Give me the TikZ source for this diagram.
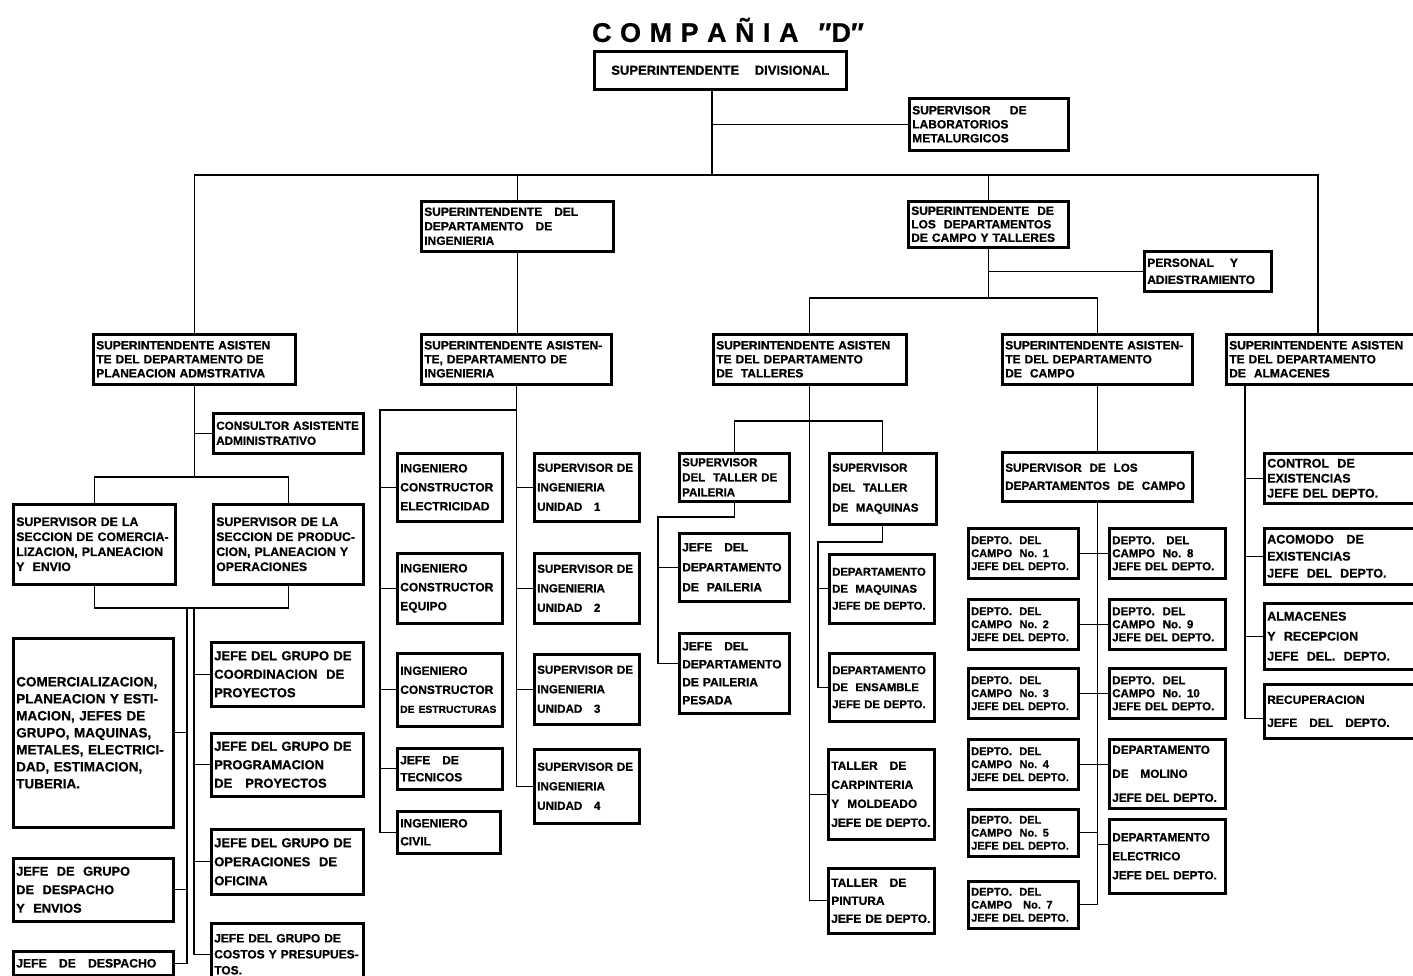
\documentclass[tikz,border=0pt]{standalone}
\usepackage{fontspec}
\setmainfont{Liberation Sans}[BoldFeatures={FakeBold=0.8}]
\tikzset{
  box/.style={draw, line width=2.5pt, inner xsep=3pt, inner ysep=2pt, align=left, font=\bfseries},
  conn/.style={line width=1.4pt},
}
\newcommand\bx[8]{%
  \pgfmathsetmacro\bxw{#4-#2}%
  \pgfmathsetmacro\bxh{#5-#3}%
  \pgfmathsetmacro\bxt{#4-#2-6}%
  \node[box, anchor=north west, minimum width=\bxw pt, minimum height=\bxh pt,
        text width=\bxt pt, font={\bfseries\fontsize{#6}{#7}\selectfont}] (#1) at (#2,#3) {#8};}
\begin{document}
\begin{tikzpicture}[x=1pt,y=-1pt]
\useasboundingbox (0,0) rectangle (1413,975);
\fill[white] (0,0) rectangle (1413,975);
\clip (0,0) rectangle (1413,975);

% title
\node[font=\bfseries\fontsize{27}{29}\selectfont] (title) at (728,30)
  {C\hspace{8.5pt}O\hspace{8.5pt}M\hspace{8.5pt}P\hspace{8.5pt}A\hspace{8.5pt}Ñ\hspace{8.5pt}I\hspace{8.5pt}A\hspace{20pt}″D″};

% top level
\node[box, anchor=north west, minimum width=252pt, minimum height=38pt, align=center,
      font=\bfseries\fontsize{13}{15}\selectfont] (SD) at (593,50) {SUPERINTENDENTE\hspace{1.2em}DIVISIONAL};
\bx{Lab}{908}{97}{1067}{149}{12}{14}{SUPERVISOR\hspace{1.6em}DE\\LABORATORIOS\\METALURGICOS}
\bx{Ing}{420}{200}{612}{250}{12}{14.5}{SUPERINTENDENTE\ \ \ DEL\\DEPARTAMENTO\ \ \ DE\\INGENIERIA}
\bx{CT}{907}{200}{1067}{246}{12}{13.5}{SUPERINTENDENTE\ \ DE\\LOS\ \ DEPARTAMENTOS\\DE CAMPO Y TALLERES}
\bx{Pers}{1143}{250}{1270}{290}{12}{17}{PERSONAL\ \ \ \ Y\\ADIESTRAMIENTO}

\bx{Plan}{92}{333}{294}{383}{12}{14}{SUPERINTENDENTE ASISTEN\\TE DEL DEPARTAMENTO DE\\PLANEACION ADMSTRATIVA}
\bx{AIng}{420}{333}{610}{383}{12}{14}{SUPERINTENDENTE ASISTEN-\\TE, DEPARTAMENTO DE\\INGENIERIA}
\bx{Tal}{712}{333}{905}{383}{12}{14}{SUPERINTENDENTE ASISTEN\\TE DEL DEPARTAMENTO\\DE\ \ TALLERES}
\bx{Cam}{1001}{333}{1191}{383}{12}{14}{SUPERINTENDENTE ASISTEN-\\TE DEL DEPARTAMENTO\\DE\ \ CAMPO}
\bx{Alm}{1225}{333}{1420}{383}{12}{14}{SUPERINTENDENTE ASISTEN\\TE DEL DEPARTAMENTO\\DE\ \ ALMACENES}

% planeacion subtree
\bx{Cons}{212}{412}{362}{452}{11.7}{15}{CONSULTOR ASISTENTE\\ADMINISTRATIVO}
\bx{SupL}{12}{503}{174}{583}{12.3}{15}{SUPERVISOR DE LA\\SECCION DE COMERCIA-\\LIZACION, PLANEACION\\Y\ \ ENVIO}
\bx{SupR}{212}{503}{362}{583}{12.3}{15}{SUPERVISOR DE LA\\SECCION DE PRODUC-\\CION, PLANEACION Y\\OPERACIONES}
\bx{Com}{12}{637}{172}{826}{13.5}{17}{COMERCIALIZACION,\\PLANEACION Y ESTI-\\MACION, JEFES DE\\GRUPO, MAQUINAS,\\METALES, ELECTRICI-\\DAD, ESTIMACION,\\TUBERIA.}
\bx{JGD}{12}{857}{172}{920}{12.8}{18.5}{JEFE\ \ DE\ \ GRUPO\\DE\ \ DESPACHO\\Y\ \ ENVIOS}
\bx{JD}{12}{950}{172}{974}{12.2}{14}{JEFE\ \ \ DE\ \ \ DESPACHO}
\bx{Coord}{210}{641}{362}{705}{13}{18.5}{JEFE DEL GRUPO DE\\COORDINACION\ \ DE\\PROYECTOS}
\bx{Prog}{210}{732}{362}{795}{13}{18.5}{JEFE DEL GRUPO DE\\PROGRAMACION\\DE\ \ \ PROYECTOS}
\bx{Oper}{210}{828}{362}{893}{13}{19}{JEFE DEL GRUPO DE\\OPERACIONES\ \ DE\\OFICINA}
\bx{Cost}{210}{922}{362}{984}{12}{16}{JEFE DEL GRUPO DE\\COSTOS Y PRESUPUES-\\TOS.}

% ingenieria subtree
\bx{IE}{396}{452}{501}{520}{12}{19}{INGENIERO\\CONSTRUCTOR\\ELECTRICIDAD}
\bx{IEq}{396}{552}{501}{622}{12}{19}{INGENIERO\\CONSTRUCTOR\\EQUIPO}
\bx{IEs}{396}{652}{501}{725}{12}{19}{INGENIERO\\CONSTRUCTOR\\{\fontsize{10.3}{19}\selectfont DE ESTRUCTURAS}}
\bx{JT}{396}{747}{501}{788}{12}{17}{JEFE\ \ \ DE\\TECNICOS}
\bx{IC}{396}{810}{499}{852}{12}{18}{INGENIERO\\CIVIL}
\bx{U1}{533}{452}{638}{520}{11.6}{19.5}{SUPERVISOR DE\\INGENIERIA\\UNIDAD\ \ \ 1}
\bx{U2}{533}{552}{638}{622}{11.6}{19.5}{SUPERVISOR DE\\INGENIERIA\\UNIDAD\ \ \ 2}
\bx{U3}{533}{653}{638}{723}{11.6}{19.5}{SUPERVISOR DE\\INGENIERIA\\UNIDAD\ \ \ 3}
\bx{U4}{533}{748}{638}{822}{11.6}{19.5}{SUPERVISOR DE\\INGENIERIA\\UNIDAD\ \ \ 4}

% talleres subtree
\bx{SP}{678}{452}{788}{500}{11.5}{15}{SUPERVISOR\\DEL\ \ TALLER DE\\PAILERIA}
\bx{SM}{828}{452}{935}{523}{11.5}{20}{SUPERVISOR\\DEL\ \ TALLER\\DE\ \ MAQUINAS}
\bx{JDP}{678}{532}{788}{600}{12}{20}{JEFE\ \ \ DEL\\DEPARTAMENTO\\DE\ \ PAILERIA}
\bx{JDPP}{678}{632}{788}{712}{12}{18}{JEFE\ \ \ DEL\\DEPARTAMENTO\\DE PAILERIA\\PESADA}
\bx{DM}{828}{553}{933}{622}{11.3}{17}{DEPARTAMENTO\\DE\ \ MAQUINAS\\JEFE DE DEPTO.}
\bx{DE}{828}{652}{933}{720}{11.3}{17}{DEPARTAMENTO\\DE\ \ ENSAMBLE\\JEFE DE DEPTO.}
\bx{Carp}{827}{748}{933}{838}{12}{19}{TALLER\ \ \ DE\\CARPINTERIA\\Y\ \ MOLDEADO\\JEFE DE DEPTO.}
\bx{Pint}{827}{867}{933}{932}{12}{18}{TALLER\ \ \ DE\\PINTURA\\JEFE DE DEPTO.}

% campo subtree
\bx{SC}{1001}{451}{1191}{500}{11.7}{18}{SUPERVISOR\ \ DE\ \ LOS\\DEPARTAMENTOS\ \ DE\ \ CAMPO}
\bx{D1}{967}{527}{1077}{577}{11}{13}{DEPTO.\ \ DEL\\CAMPO\ \ No. 1\\JEFE DEL DEPTO.}
\bx{D2}{967}{598}{1077}{648}{11}{13}{DEPTO.\ \ DEL\\CAMPO\ \ No. 2\\JEFE DEL DEPTO.}
\bx{D3}{967}{667}{1077}{717}{11}{13}{DEPTO.\ \ DEL\\CAMPO\ \ No. 3\\JEFE DEL DEPTO.}
\bx{D4}{967}{738}{1077}{788}{11}{13}{DEPTO.\ \ DEL\\CAMPO\ \ No. 4\\JEFE DEL DEPTO.}
\bx{D5}{967}{808}{1077}{855}{11}{13}{DEPTO.\ \ DEL\\CAMPO\ \ No. 5\\JEFE DEL DEPTO.}
\bx{D7}{967}{880}{1077}{927}{11}{13}{DEPTO.\ \ DEL\\CAMPO\ \ \ No. 7\\JEFE DEL DEPTO.}
\bx{D8}{1108}{527}{1224}{577}{11.5}{13}{DEPTO.\ \ \ DEL\\CAMPO\ \ No. 8\\JEFE DEL DEPTO.}
\bx{D9}{1108}{598}{1224}{648}{11.5}{13}{DEPTO.\ \ DEL\\CAMPO\ \ No. 9\\JEFE DEL DEPTO.}
\bx{D10}{1108}{667}{1224}{717}{11.5}{13}{DEPTO.\ \ DEL\\CAMPO\ \ No. 10\\JEFE DEL DEPTO.}
\bx{Mol}{1108}{738}{1224}{807}{11.8}{24}{DEPARTAMENTO\\DE\ \ \ MOLINO\\JEFE DEL DEPTO.}
\bx{EL}{1108}{818}{1224}{892}{11.8}{19}{DEPARTAMENTO\\ELECTRICO\\JEFE DEL DEPTO.}

% almacenes subtree
\bx{Ctrl}{1263}{452}{1420}{502}{12.5}{15}{CONTROL\ \ DE\\EXISTENCIAS\\JEFE DEL DEPTO.}
\bx{Acom}{1263}{527}{1420}{583}{12.5}{17}{ACOMODO\ \ \ DE\\EXISTENCIAS\\JEFE\ \ DEL\ \ DEPTO.}
\bx{AlmR}{1263}{602}{1420}{668}{12.5}{20}{ALMACENES\\Y\ \ RECEPCION\\JEFE\ \ DEL.\ \ DEPTO.}
\bx{Rec}{1263}{683}{1420}{737}{12}{23}{RECUPERACION\\JEFE\ \ \ DEL\ \ \ DEPTO.}

% ---------- connectors ----------
\coordinate (bar) at (0,175);
\coordinate (barR) at (1318,175);
\coordinate (t0) at (712,175);
\draw[conn] (t0 |- SD.south) -- (t0);
\draw[conn] (t0 |- Lab.west) -- (Lab.west);
\draw[conn] (Plan.north) -- (Plan.north |- bar) -- (barR) -- (barR |- Alm.north);
\draw[conn] (Ing.north) -- (Ing.north |- bar);
\draw[conn] (CT.north) -- (CT.north |- bar);
\draw[conn] (Ing.south) -- (Ing.south |- AIng.north);

\coordinate (bar2) at (0,298);
\draw[conn] (CT.south) -- (CT.south |- bar2);
\draw[conn] (CT.south |- Pers.west) -- (Pers.west);
\draw[conn] (Tal.north) -- (Tal.north |- bar2) -- (Cam.north |- bar2) -- (Cam.north);

% planeacion
\coordinate (bar3) at (0,477);
\coordinate (bar4) at (0,608);
\draw[conn] (Plan.south) -- (Plan.south |- bar3);
\draw[conn] (Plan.south |- Cons.west) -- (Cons.west);
\draw[conn] (SupL.north) -- (SupL.north |- bar3) -- (SupR.north |- bar3) -- (SupR.north);
\draw[conn] (SupL.south) -- (SupL.south |- bar4) -- (SupR.south |- bar4) -- (SupR.south);
\coordinate (jL) at (187,608);
\coordinate (jR) at (194,608);
\draw[conn] (jL) |- (JD.east);
\draw[conn] (jL |- Com.east) -- (Com.east);
\draw[conn] (jL |- JGD.east) -- (JGD.east);
\draw[conn] (jR) |- (Cost.west);
\draw[conn] (jR |- Coord.west) -- (Coord.west);
\draw[conn] (jR |- Prog.west) -- (Prog.west);
\draw[conn] (jR |- Oper.west) -- (Oper.west);

% ingenieria
\coordinate (iL) at (380,410);
\draw[conn] (AIng.south) |- (U4.west);
\draw[conn] (AIng.south |- iL) -- (iL) |- (IC.west);
\draw[conn] (iL |- IE.west) -- (IE.west);
\draw[conn] (iL |- IEq.west) -- (IEq.west);
\draw[conn] (iL |- IEs.west) -- (IEs.west);
\draw[conn] (iL |- JT.west) -- (JT.west);
\draw[conn] (AIng.south |- U1.west) -- (U1.west);
\draw[conn] (AIng.south |- U2.west) -- (U2.west);
\draw[conn] (AIng.south |- U3.west) -- (U3.west);

% talleres
\coordinate (tb) at (0,421);
\draw[conn] (Tal.south) |- (Pint.west);
\draw[conn] (Tal.south |- Carp.west) -- (Carp.west);
\draw[conn] (SP.north) -- (SP.north |- tb) -- (SM.north |- tb) -- (SM.north);
\coordinate (pk) at (658,517);
\coordinate (jpp) at ([yshift=10pt]JDPP.west);
\draw[conn] (SP.south) |- (pk) |- (jpp);
\draw[conn] (pk |- JDP.west) -- (JDP.west);
\coordinate (mk) at (818,542);
\draw[conn] (SM.south) |- (mk) |- (DE.west);
\draw[conn] (mk |- DM.west) -- (DM.west);

% campo
\draw[conn] (Cam.south) -- (SC.north);
\draw[conn] (SC.south) |- (D7.east);
\draw[conn] (D1.east) -- (D8.west);
\draw[conn] (D2.east) -- (D9.west);
\draw[conn] (D3.east) -- (D10.west);
\draw[conn] (D4.east) -- (D4.east -| Mol.west);
\draw[conn] (SC.south |- D5.east) -- (D5.east);
\coordinate (elw) at ([yshift=12pt]EL.west);
\draw[conn] (SC.south |- elw) -- (elw);

% almacenes
\coordinate (ak) at ([xshift=20pt]Alm.south west);
\coordinate (rw) at ([yshift=-7pt]Rec.west);
\draw[conn] (ak) |- (rw);
\draw[conn] (ak |- Ctrl.west) -- (Ctrl.west);
\draw[conn] (ak |- Acom.west) -- (Acom.west);
\draw[conn] (ak |- AlmR.west) -- (AlmR.west);
\end{tikzpicture}
\end{document}
